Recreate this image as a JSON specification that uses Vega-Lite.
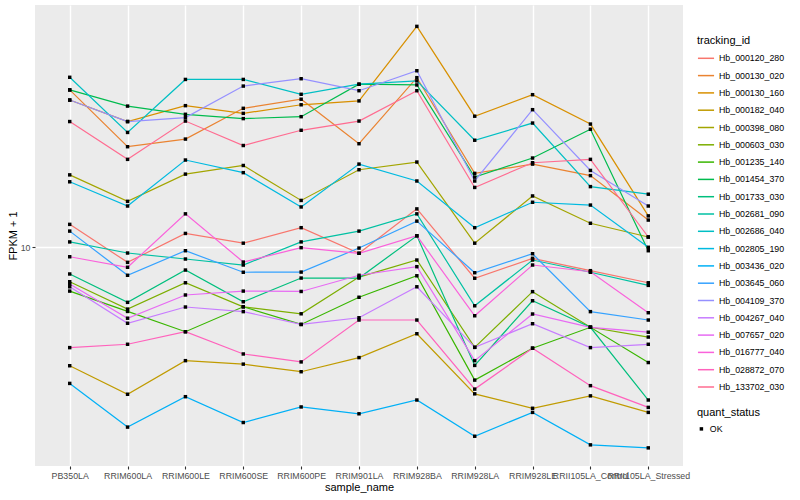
{
"$schema":"https://vega.github.io/schema/vega-lite/v6.json",
"width":648,"height":461,
"autosize":{"type":"none"},
"padding":{"left":35,"top":5,"right":117,"bottom":34},
"background":"white",
"config":{
"view":{"fill":"#EBEBEB","stroke":null},
"font":"Liberation Sans",
"axis":{"domain":false,"gridColor":"white","gridWidth":1.4,"tickColor":"#333333","tickWidth":1.1,"tickSize":3,"labelColor":"#4D4D4D","labelFontSize":8.8,"labelFont":"Liberation Sans","titleFont":"Liberation Sans","titleFontSize":11,"titleFontWeight":"normal","titleColor":"black"},
"legend":{"padding":0,"titleFont":"Liberation Sans","titleFontSize":11,"titleFontWeight":"normal","titleColor":"black","labelFont":"Liberation Sans","labelFontSize":8.8,"labelColor":"black","labelOffset":4}
},
"data":{"values":[
{"id":"Hb_000120_280","s":"PB350LA","v":11.9,"q":"OK"},{"id":"Hb_000120_280","s":"RRIM600LA","v":8.89,"q":"OK"},{"id":"Hb_000120_280","s":"RRIM600LE","v":11.1,"q":"OK"},{"id":"Hb_000120_280","s":"RRIM600SE","v":10.3,"q":"OK"},{"id":"Hb_000120_280","s":"RRIM600PE","v":11.6,"q":"OK"},{"id":"Hb_000120_280","s":"RRIM901LA","v":9.53,"q":"OK"},{"id":"Hb_000120_280","s":"RRIM928BA","v":13.4,"q":"OK"},{"id":"Hb_000120_280","s":"RRIM928LA","v":7.87,"q":"OK"},{"id":"Hb_000120_280","s":"RRIM928LE","v":9.17,"q":"OK"},{"id":"Hb_000120_280","s":"RRII105LA_Control","v":8.34,"q":"OK"},{"id":"Hb_000120_280","s":"RRII105LA_Stressed","v":7.60,"q":"OK"},
{"id":"Hb_000130_020","s":"PB350LA","v":33.4,"q":"OK"},{"id":"Hb_000130_020","s":"RRIM600LA","v":21.6,"q":"OK"},{"id":"Hb_000130_020","s":"RRIM600LE","v":22.9,"q":"OK"},{"id":"Hb_000130_020","s":"RRIM600SE","v":29.0,"q":"OK"},{"id":"Hb_000130_020","s":"RRIM600PE","v":31.1,"q":"OK"},{"id":"Hb_000130_020","s":"RRIM901LA","v":22.1,"q":"OK"},{"id":"Hb_000130_020","s":"RRIM928BA","v":36.7,"q":"OK"},{"id":"Hb_000130_020","s":"RRIM928LA","v":17.6,"q":"OK"},{"id":"Hb_000130_020","s":"RRIM928LE","v":18.9,"q":"OK"},{"id":"Hb_000130_020","s":"RRII105LA_Control","v":17.3,"q":"OK"},{"id":"Hb_000130_020","s":"RRII105LA_Stressed","v":12.3,"q":"OK"},
{"id":"Hb_000130_160","s":"PB350LA","v":30.9,"q":"OK"},{"id":"Hb_000130_160","s":"RRIM600LA","v":26.2,"q":"OK"},{"id":"Hb_000130_160","s":"RRIM600LE","v":29.6,"q":"OK"},{"id":"Hb_000130_160","s":"RRIM600SE","v":27.9,"q":"OK"},{"id":"Hb_000130_160","s":"RRIM600PE","v":29.8,"q":"OK"},{"id":"Hb_000130_160","s":"RRIM901LA","v":30.7,"q":"OK"},{"id":"Hb_000130_160","s":"RRIM928BA","v":54.4,"q":"OK"},{"id":"Hb_000130_160","s":"RRIM928LA","v":27.3,"q":"OK"},{"id":"Hb_000130_160","s":"RRIM928LE","v":32.2,"q":"OK"},{"id":"Hb_000130_160","s":"RRII105LA_Control","v":25.7,"q":"OK"},{"id":"Hb_000130_160","s":"RRII105LA_Stressed","v":12.7,"q":"OK"},
{"id":"Hb_000182_040","s":"PB350LA","v":4.02,"q":"OK"},{"id":"Hb_000182_040","s":"RRIM600LA","v":3.23,"q":"OK"},{"id":"Hb_000182_040","s":"RRIM600LE","v":4.18,"q":"OK"},{"id":"Hb_000182_040","s":"RRIM600SE","v":4.07,"q":"OK"},{"id":"Hb_000182_040","s":"RRIM600PE","v":3.84,"q":"OK"},{"id":"Hb_000182_040","s":"RRIM901LA","v":4.28,"q":"OK"},{"id":"Hb_000182_040","s":"RRIM928BA","v":5.14,"q":"OK"},{"id":"Hb_000182_040","s":"RRIM928LA","v":3.24,"q":"OK"},{"id":"Hb_000182_040","s":"RRIM928LE","v":2.90,"q":"OK"},{"id":"Hb_000182_040","s":"RRII105LA_Control","v":3.19,"q":"OK"},{"id":"Hb_000182_040","s":"RRII105LA_Stressed","v":2.81,"q":"OK"},
{"id":"Hb_000398_080","s":"PB350LA","v":17.4,"q":"OK"},{"id":"Hb_000398_080","s":"RRIM600LA","v":14.2,"q":"OK"},{"id":"Hb_000398_080","s":"RRIM600LE","v":17.5,"q":"OK"},{"id":"Hb_000398_080","s":"RRIM600SE","v":18.7,"q":"OK"},{"id":"Hb_000398_080","s":"RRIM600PE","v":14.3,"q":"OK"},{"id":"Hb_000398_080","s":"RRIM901LA","v":18.1,"q":"OK"},{"id":"Hb_000398_080","s":"RRIM928BA","v":19.2,"q":"OK"},{"id":"Hb_000398_080","s":"RRIM928LA","v":10.3,"q":"OK"},{"id":"Hb_000398_080","s":"RRIM928LE","v":14.8,"q":"OK"},{"id":"Hb_000398_080","s":"RRII105LA_Control","v":12.0,"q":"OK"},{"id":"Hb_000398_080","s":"RRII105LA_Stressed","v":10.8,"q":"OK"},
{"id":"Hb_000603_030","s":"PB350LA","v":7.66,"q":"OK"},{"id":"Hb_000603_030","s":"RRIM600LA","v":6.21,"q":"OK"},{"id":"Hb_000603_030","s":"RRIM600LE","v":7.60,"q":"OK"},{"id":"Hb_000603_030","s":"RRIM600SE","v":6.32,"q":"OK"},{"id":"Hb_000603_030","s":"RRIM600PE","v":5.99,"q":"OK"},{"id":"Hb_000603_030","s":"RRIM901LA","v":7.94,"q":"OK"},{"id":"Hb_000603_030","s":"RRIM928BA","v":9.05,"q":"OK"},{"id":"Hb_000603_030","s":"RRIM928LA","v":4.63,"q":"OK"},{"id":"Hb_000603_030","s":"RRIM928LE","v":7.10,"q":"OK"},{"id":"Hb_000603_030","s":"RRII105LA_Control","v":5.40,"q":"OK"},{"id":"Hb_000603_030","s":"RRII105LA_Stressed","v":5.01,"q":"OK"},
{"id":"Hb_001235_140","s":"PB350LA","v":7.13,"q":"OK"},{"id":"Hb_001235_140","s":"RRIM600LA","v":6.10,"q":"OK"},{"id":"Hb_001235_140","s":"RRIM600LE","v":5.22,"q":"OK"},{"id":"Hb_001235_140","s":"RRIM600SE","v":6.32,"q":"OK"},{"id":"Hb_001235_140","s":"RRIM600PE","v":5.52,"q":"OK"},{"id":"Hb_001235_140","s":"RRIM901LA","v":6.80,"q":"OK"},{"id":"Hb_001235_140","s":"RRIM928BA","v":8.02,"q":"OK"},{"id":"Hb_001235_140","s":"RRIM928LA","v":3.60,"q":"OK"},{"id":"Hb_001235_140","s":"RRIM928LE","v":4.60,"q":"OK"},{"id":"Hb_001235_140","s":"RRII105LA_Control","v":5.40,"q":"OK"},{"id":"Hb_001235_140","s":"RRII105LA_Stressed","v":4.12,"q":"OK"},
{"id":"Hb_001454_370","s":"PB350LA","v":33.4,"q":"OK"},{"id":"Hb_001454_370","s":"RRIM600LA","v":29.5,"q":"OK"},{"id":"Hb_001454_370","s":"RRIM600LE","v":27.7,"q":"OK"},{"id":"Hb_001454_370","s":"RRIM600SE","v":26.8,"q":"OK"},{"id":"Hb_001454_370","s":"RRIM600PE","v":27.2,"q":"OK"},{"id":"Hb_001454_370","s":"RRIM901LA","v":34.9,"q":"OK"},{"id":"Hb_001454_370","s":"RRIM928BA","v":34.7,"q":"OK"},{"id":"Hb_001454_370","s":"RRIM928LA","v":17.1,"q":"OK"},{"id":"Hb_001454_370","s":"RRIM928LE","v":19.8,"q":"OK"},{"id":"Hb_001454_370","s":"RRII105LA_Control","v":24.7,"q":"OK"},{"id":"Hb_001454_370","s":"RRII105LA_Stressed","v":9.72,"q":"OK"},
{"id":"Hb_001733_030","s":"PB350LA","v":8.13,"q":"OK"},{"id":"Hb_001733_030","s":"RRIM600LA","v":6.54,"q":"OK"},{"id":"Hb_001733_030","s":"RRIM600LE","v":8.38,"q":"OK"},{"id":"Hb_001733_030","s":"RRIM600SE","v":6.57,"q":"OK"},{"id":"Hb_001733_030","s":"RRIM600PE","v":7.88,"q":"OK"},{"id":"Hb_001733_030","s":"RRIM901LA","v":7.88,"q":"OK"},{"id":"Hb_001733_030","s":"RRIM928BA","v":10.9,"q":"OK"},{"id":"Hb_001733_030","s":"RRIM928LA","v":4.03,"q":"OK"},{"id":"Hb_001733_030","s":"RRIM928LE","v":6.62,"q":"OK"},{"id":"Hb_001733_030","s":"RRII105LA_Control","v":5.40,"q":"OK"},{"id":"Hb_001733_030","s":"RRII105LA_Stressed","v":3.09,"q":"OK"},
{"id":"Hb_002681_090","s":"PB350LA","v":10.4,"q":"OK"},{"id":"Hb_002681_090","s":"RRIM600LA","v":9.55,"q":"OK"},{"id":"Hb_002681_090","s":"RRIM600LE","v":9.12,"q":"OK"},{"id":"Hb_002681_090","s":"RRIM600SE","v":8.71,"q":"OK"},{"id":"Hb_002681_090","s":"RRIM600PE","v":10.4,"q":"OK"},{"id":"Hb_002681_090","s":"RRIM901LA","v":11.3,"q":"OK"},{"id":"Hb_002681_090","s":"RRIM928BA","v":12.9,"q":"OK"},{"id":"Hb_002681_090","s":"RRIM928LA","v":6.37,"q":"OK"},{"id":"Hb_002681_090","s":"RRIM928LE","v":9.05,"q":"OK"},{"id":"Hb_002681_090","s":"RRII105LA_Control","v":8.24,"q":"OK"},{"id":"Hb_002681_090","s":"RRII105LA_Stressed","v":7.45,"q":"OK"},
{"id":"Hb_002686_040","s":"PB350LA","v":36.8,"q":"OK"},{"id":"Hb_002686_040","s":"RRIM600LA","v":24.1,"q":"OK"},{"id":"Hb_002686_040","s":"RRIM600LE","v":36.2,"q":"OK"},{"id":"Hb_002686_040","s":"RRIM600SE","v":36.2,"q":"OK"},{"id":"Hb_002686_040","s":"RRIM600PE","v":32.3,"q":"OK"},{"id":"Hb_002686_040","s":"RRIM901LA","v":34.9,"q":"OK"},{"id":"Hb_002686_040","s":"RRIM928BA","v":35.8,"q":"OK"},{"id":"Hb_002686_040","s":"RRIM928LA","v":22.7,"q":"OK"},{"id":"Hb_002686_040","s":"RRIM928LE","v":25.9,"q":"OK"},{"id":"Hb_002686_040","s":"RRII105LA_Control","v":15.9,"q":"OK"},{"id":"Hb_002686_040","s":"RRII105LA_Stressed","v":15.0,"q":"OK"},
{"id":"Hb_002805_190","s":"PB350LA","v":16.5,"q":"OK"},{"id":"Hb_002805_190","s":"RRIM600LA","v":13.7,"q":"OK"},{"id":"Hb_002805_190","s":"RRIM600LE","v":19.5,"q":"OK"},{"id":"Hb_002805_190","s":"RRIM600SE","v":17.7,"q":"OK"},{"id":"Hb_002805_190","s":"RRIM600PE","v":13.6,"q":"OK"},{"id":"Hb_002805_190","s":"RRIM901LA","v":18.9,"q":"OK"},{"id":"Hb_002805_190","s":"RRIM928BA","v":16.6,"q":"OK"},{"id":"Hb_002805_190","s":"RRIM928LA","v":11.6,"q":"OK"},{"id":"Hb_002805_190","s":"RRIM928LE","v":14.1,"q":"OK"},{"id":"Hb_002805_190","s":"RRII105LA_Control","v":13.8,"q":"OK"},{"id":"Hb_002805_190","s":"RRII105LA_Stressed","v":9.98,"q":"OK"},
{"id":"Hb_003436_020","s":"PB350LA","v":3.51,"q":"OK"},{"id":"Hb_003436_020","s":"RRIM600LA","v":2.51,"q":"OK"},{"id":"Hb_003436_020","s":"RRIM600LE","v":3.17,"q":"OK"},{"id":"Hb_003436_020","s":"RRIM600SE","v":2.60,"q":"OK"},{"id":"Hb_003436_020","s":"RRIM600PE","v":2.93,"q":"OK"},{"id":"Hb_003436_020","s":"RRIM901LA","v":2.78,"q":"OK"},{"id":"Hb_003436_020","s":"RRIM928BA","v":3.09,"q":"OK"},{"id":"Hb_003436_020","s":"RRIM928LA","v":2.34,"q":"OK"},{"id":"Hb_003436_020","s":"RRIM928LE","v":2.81,"q":"OK"},{"id":"Hb_003436_020","s":"RRII105LA_Control","v":2.19,"q":"OK"},{"id":"Hb_003436_020","s":"RRII105LA_Stressed","v":2.14,"q":"OK"},
{"id":"Hb_003645_060","s":"PB350LA","v":11.3,"q":"OK"},{"id":"Hb_003645_060","s":"RRIM600LA","v":8.05,"q":"OK"},{"id":"Hb_003645_060","s":"RRIM600LE","v":9.72,"q":"OK"},{"id":"Hb_003645_060","s":"RRIM600SE","v":8.24,"q":"OK"},{"id":"Hb_003645_060","s":"RRIM600PE","v":8.25,"q":"OK"},{"id":"Hb_003645_060","s":"RRIM901LA","v":9.92,"q":"OK"},{"id":"Hb_003645_060","s":"RRIM928BA","v":12.2,"q":"OK"},{"id":"Hb_003645_060","s":"RRIM928LA","v":8.21,"q":"OK"},{"id":"Hb_003645_060","s":"RRIM928LE","v":9.50,"q":"OK"},{"id":"Hb_003645_060","s":"RRII105LA_Control","v":6.09,"q":"OK"},{"id":"Hb_003645_060","s":"RRII105LA_Stressed","v":5.71,"q":"OK"},
{"id":"Hb_004109_370","s":"PB350LA","v":30.9,"q":"OK"},{"id":"Hb_004109_370","s":"RRIM600LA","v":26.2,"q":"OK"},{"id":"Hb_004109_370","s":"RRIM600LE","v":27.0,"q":"OK"},{"id":"Hb_004109_370","s":"RRIM600SE","v":34.4,"q":"OK"},{"id":"Hb_004109_370","s":"RRIM600PE","v":36.4,"q":"OK"},{"id":"Hb_004109_370","s":"RRIM901LA","v":33.2,"q":"OK"},{"id":"Hb_004109_370","s":"RRIM928BA","v":38.7,"q":"OK"},{"id":"Hb_004109_370","s":"RRIM928LA","v":16.6,"q":"OK"},{"id":"Hb_004109_370","s":"RRIM928LE","v":28.7,"q":"OK"},{"id":"Hb_004109_370","s":"RRII105LA_Control","v":18.0,"q":"OK"},{"id":"Hb_004109_370","s":"RRII105LA_Stressed","v":13.7,"q":"OK"},
{"id":"Hb_004267_040","s":"PB350LA","v":7.37,"q":"OK"},{"id":"Hb_004267_040","s":"RRIM600LA","v":5.57,"q":"OK"},{"id":"Hb_004267_040","s":"RRIM600LE","v":6.31,"q":"OK"},{"id":"Hb_004267_040","s":"RRIM600SE","v":6.09,"q":"OK"},{"id":"Hb_004267_040","s":"RRIM600PE","v":5.52,"q":"OK"},{"id":"Hb_004267_040","s":"RRIM901LA","v":5.81,"q":"OK"},{"id":"Hb_004267_040","s":"RRIM928BA","v":7.37,"q":"OK"},{"id":"Hb_004267_040","s":"RRIM928LA","v":4.63,"q":"OK"},{"id":"Hb_004267_040","s":"RRIM928LE","v":5.55,"q":"OK"},{"id":"Hb_004267_040","s":"RRII105LA_Control","v":4.62,"q":"OK"},{"id":"Hb_004267_040","s":"RRII105LA_Stressed","v":4.74,"q":"OK"},
{"id":"Hb_007657_020","s":"PB350LA","v":7.53,"q":"OK"},{"id":"Hb_007657_020","s":"RRIM600LA","v":5.79,"q":"OK"},{"id":"Hb_007657_020","s":"RRIM600LE","v":6.92,"q":"OK"},{"id":"Hb_007657_020","s":"RRIM600SE","v":7.13,"q":"OK"},{"id":"Hb_007657_020","s":"RRIM600PE","v":7.11,"q":"OK"},{"id":"Hb_007657_020","s":"RRIM901LA","v":8.05,"q":"OK"},{"id":"Hb_007657_020","s":"RRIM928BA","v":8.60,"q":"OK"},{"id":"Hb_007657_020","s":"RRIM928LA","v":4.18,"q":"OK"},{"id":"Hb_007657_020","s":"RRIM928LE","v":5.98,"q":"OK"},{"id":"Hb_007657_020","s":"RRII105LA_Control","v":5.40,"q":"OK"},{"id":"Hb_007657_020","s":"RRII105LA_Stressed","v":5.20,"q":"OK"},
{"id":"Hb_016777_040","s":"PB350LA","v":9.28,"q":"OK"},{"id":"Hb_016777_040","s":"RRIM600LA","v":8.56,"q":"OK"},{"id":"Hb_016777_040","s":"RRIM600LE","v":12.9,"q":"OK"},{"id":"Hb_016777_040","s":"RRIM600SE","v":8.91,"q":"OK"},{"id":"Hb_016777_040","s":"RRIM600PE","v":9.95,"q":"OK"},{"id":"Hb_016777_040","s":"RRIM901LA","v":9.53,"q":"OK"},{"id":"Hb_016777_040","s":"RRIM928BA","v":10.9,"q":"OK"},{"id":"Hb_016777_040","s":"RRIM928LA","v":5.90,"q":"OK"},{"id":"Hb_016777_040","s":"RRIM928LE","v":8.71,"q":"OK"},{"id":"Hb_016777_040","s":"RRII105LA_Control","v":8.27,"q":"OK"},{"id":"Hb_016777_040","s":"RRII105LA_Stressed","v":6.04,"q":"OK"},
{"id":"Hb_028872_070","s":"PB350LA","v":4.62,"q":"OK"},{"id":"Hb_028872_070","s":"RRIM600LA","v":4.74,"q":"OK"},{"id":"Hb_028872_070","s":"RRIM600LE","v":5.22,"q":"OK"},{"id":"Hb_028872_070","s":"RRIM600SE","v":4.40,"q":"OK"},{"id":"Hb_028872_070","s":"RRIM600PE","v":4.14,"q":"OK"},{"id":"Hb_028872_070","s":"RRIM901LA","v":5.71,"q":"OK"},{"id":"Hb_028872_070","s":"RRIM928BA","v":5.71,"q":"OK"},{"id":"Hb_028872_070","s":"RRIM928LA","v":3.36,"q":"OK"},{"id":"Hb_028872_070","s":"RRIM928LE","v":4.60,"q":"OK"},{"id":"Hb_028872_070","s":"RRII105LA_Control","v":3.45,"q":"OK"},{"id":"Hb_028872_070","s":"RRII105LA_Stressed","v":2.92,"q":"OK"},
{"id":"Hb_133702_030","s":"PB350LA","v":26.2,"q":"OK"},{"id":"Hb_133702_030","s":"RRIM600LA","v":19.6,"q":"OK"},{"id":"Hb_133702_030","s":"RRIM600LE","v":26.3,"q":"OK"},{"id":"Hb_133702_030","s":"RRIM600SE","v":21.8,"q":"OK"},{"id":"Hb_133702_030","s":"RRIM600PE","v":24.5,"q":"OK"},{"id":"Hb_133702_030","s":"RRIM901LA","v":26.3,"q":"OK"},{"id":"Hb_133702_030","s":"RRIM928BA","v":33.2,"q":"OK"},{"id":"Hb_133702_030","s":"RRIM928LA","v":15.8,"q":"OK"},{"id":"Hb_133702_030","s":"RRIM928LE","v":19.1,"q":"OK"},{"id":"Hb_133702_030","s":"RRII105LA_Control","v":19.6,"q":"OK"},{"id":"Hb_133702_030","s":"RRII105LA_Stressed","v":10.8,"q":"OK"}
]},
"encoding":{
"x":{"field":"s","type":"nominal","sort":["PB350LA","RRIM600LA","RRIM600LE","RRIM600SE","RRIM600PE","RRIM901LA","RRIM928BA","RRIM928LA","RRIM928LE","RRII105LA_Control","RRII105LA_Stressed"],"scale":{"type":"point","padding":0.6},"axis":{"title":"sample_name","labelAngle":0,"labelPadding":2,"titlePadding":2,"grid":true,"labelOverlap":false}},
"y":{"field":"v","type":"quantitative","scale":{"type":"log","domain":[1.862,64.1],"nice":false,"zero":false},"axis":{"title":"FPKM + 1","values":[10],"grid":true,"labelPadding":2,"titlePadding":2,"labelOverlap":false}}
},
"layer":[
{"mark":{"type":"line","strokeWidth":1.2},
"encoding":{"color":{"field":"id","type":"nominal","scale":{"domain":["Hb_000120_280","Hb_000130_020","Hb_000130_160","Hb_000182_040","Hb_000398_080","Hb_000603_030","Hb_001235_140","Hb_001454_370","Hb_001733_030","Hb_002681_090","Hb_002686_040","Hb_002805_190","Hb_003436_020","Hb_003645_060","Hb_004109_370","Hb_004267_040","Hb_007657_020","Hb_016777_040","Hb_028872_070","Hb_133702_030"],"range":["#F8766D","#EA8331","#D89000","#C09B00","#A3A500","#7CAE00","#39B600","#00BB4E","#00BF7D","#00C1A3","#00BFC4","#00BAE0","#00B0F6","#35A2FF","#9590FF","#C77CFF","#E76BF3","#FA62DB","#FF62BC","#FF6C91"]},"legend":{"title":"tracking_id","orient":"none","legendX":662,"legendY":30,"titlePadding":3.3,"symbolType":"stroke","symbolSize":260,"symbolStrokeWidth":1.5,"rowPadding":3.3}}}},
{"mark":{"type":"point","shape":"square","filled":true,"color":"black","size":12,"opacity":1},
"encoding":{"shape":{"field":"q","type":"nominal","scale":{"range":["square"]},"legend":{"title":"quant_status","orient":"none","legendX":662,"legendY":401.5,"titlePadding":7,"symbolSize":12,"symbolFillColor":"black","symbolStrokeColor":"black"}}}}
]
}
